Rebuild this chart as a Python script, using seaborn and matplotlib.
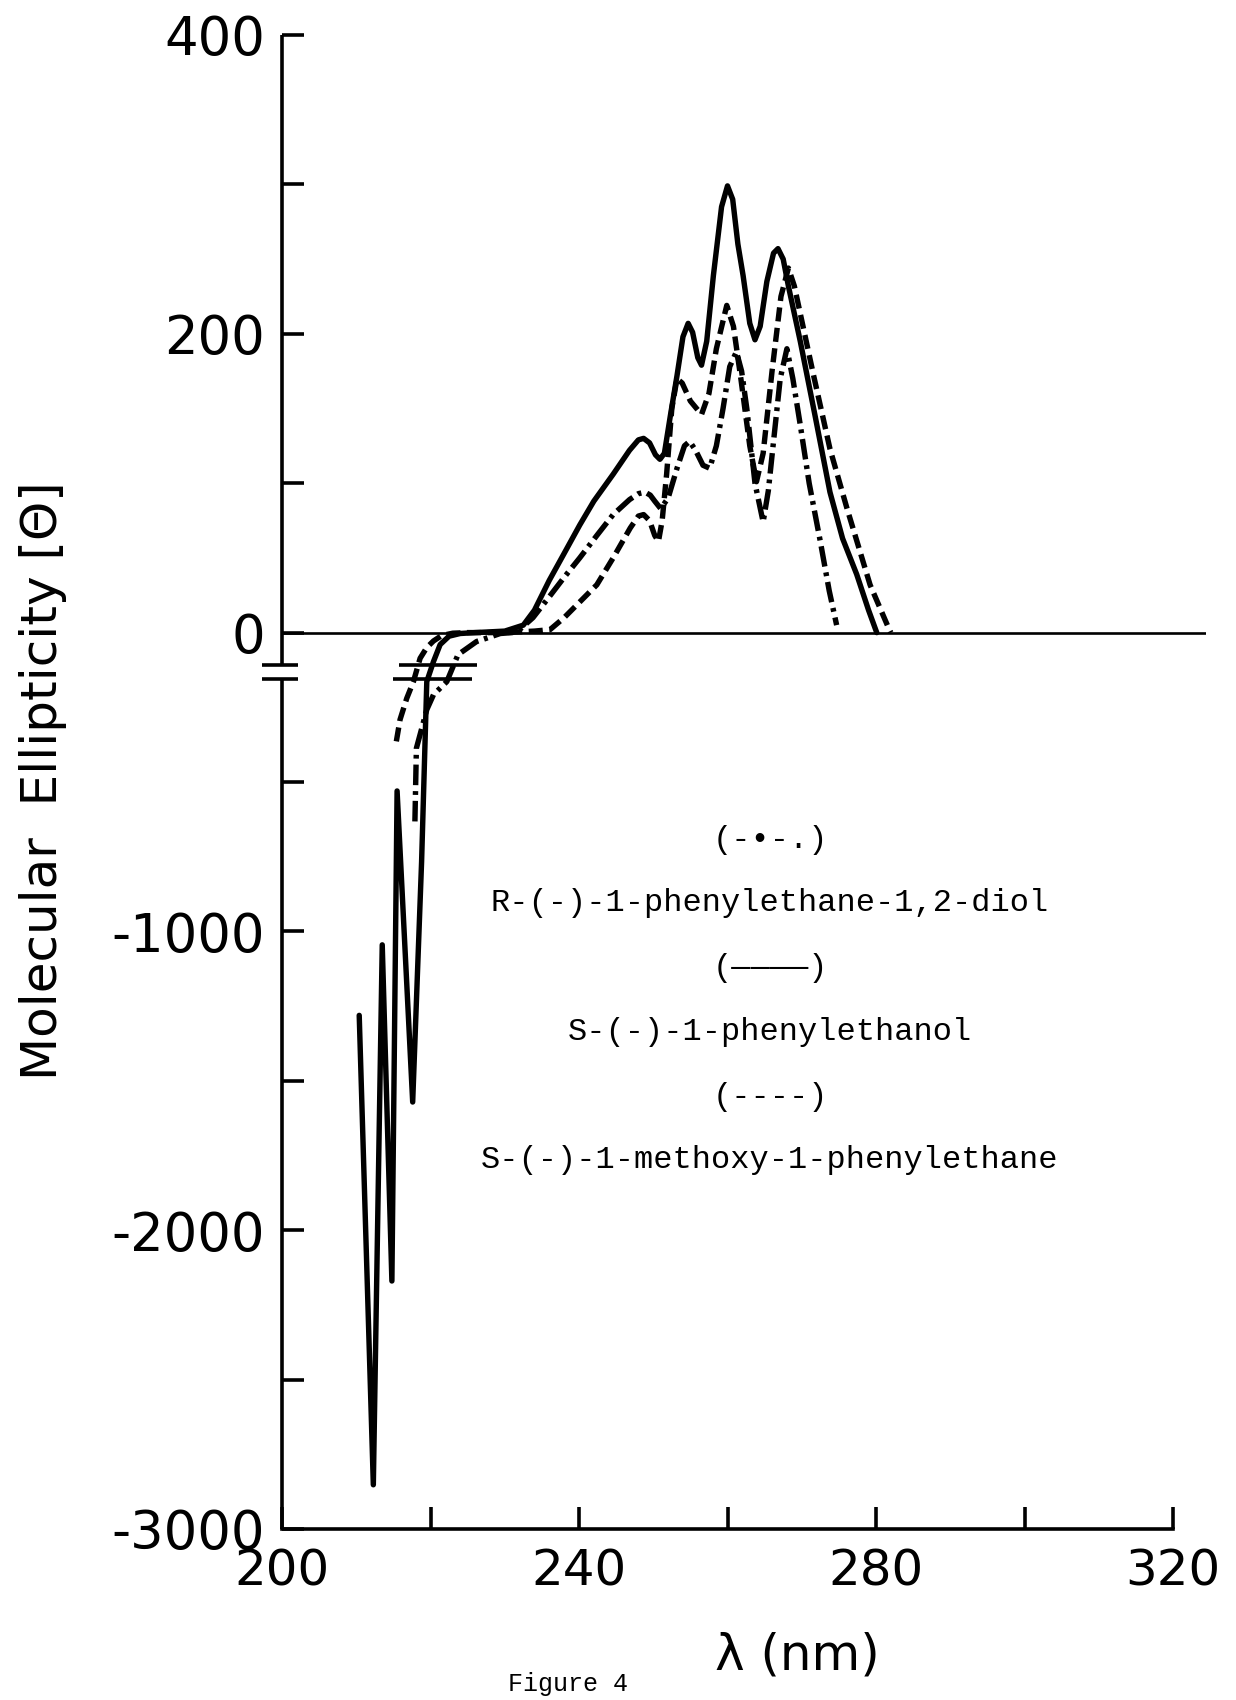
import numpy as np
import pandas as pd
import matplotlib
matplotlib.use("Agg")
import matplotlib.pyplot as plt
import seaborn as sns

# ---------------- data ----------------
# S-(-)-1-phenylethanol  (solid)
wl_solid = [210.4, 212.3, 213.5, 214.8, 215.5, 217.6, 218.8, 219.5, 220.4, 221.3, 222.5, 224.0,
            226.0, 230.0, 232.5, 234.0, 236.0, 238.0, 240.1, 242.0, 244.6, 246.8, 248.0, 248.7,
            249.5, 250.3, 250.9, 251.5, 252.3, 253.2, 254.0, 254.7, 255.3, 256.0, 256.5, 257.2,
            258.1, 259.2, 260.0, 260.7, 261.4, 262.1, 263.0, 263.7, 264.4, 265.3, 266.2, 266.8,
            267.5, 268.2, 269.8, 271.8, 273.8, 275.5, 277.4, 279.0, 280.1]
ell_solid = [-1281, -2852, -1045, -2170, -530, -1571, -767, -164, -97, -40, -12, -3,
             0, 1, 5, 15, 35, 53, 72, 88, 106, 122, 129, 130,
             127, 119, 116, 120, 145, 172, 198, 207, 201, 184, 179, 195,
             239, 285, 299, 290, 260, 239, 207, 196, 205, 235, 254, 257,
             250, 232, 195, 145, 94, 63, 39, 15, 0]

# S-(-)-1-methoxy-1-phenylethane  (dashed)
wl_dash = [215.4, 215.9, 216.8, 217.7, 218.6, 219.5, 220.4, 221.5, 223.0, 225.0, 230.0, 234.0,
           236.1, 238.0, 240.0, 242.4, 244.6, 246.9, 248.0, 248.7, 249.5, 250.2, 250.7, 251.2,
           251.8, 252.5, 253.2, 253.9, 255.0, 256.5, 257.5, 258.5, 259.9, 260.8, 261.8, 263.0,
           263.9, 264.8, 266.0, 267.2, 268.2, 269.0, 271.6, 273.8, 276.1, 279.2, 281.7, 282.0]
ell_dash = [-364, -291, -220, -164, -86, -50, -28, -10, -2, 0, 0, 1,
            2, 10, 20, 32, 50, 70, 78, 79, 75, 65, 61, 75,
            106, 150, 170, 167, 155, 146, 160, 190, 219, 205, 170, 125,
            101, 120, 175, 225, 244, 232, 172, 123, 83, 32, 3, 0]

# R-(-)-1-phenylethane-1,2-diol  (dash-dot)
wl_dd = [217.9, 218.1, 219.5, 220.4, 222.2, 223.7, 226.2, 229.4, 231.0, 232.0, 233.8, 236.0,
         238.0, 240.1, 242.4, 244.6, 246.8, 248.0, 248.9, 249.6, 250.2, 251.0, 252.0, 253.2,
         254.2, 254.9, 255.7, 256.7, 257.6, 258.5, 259.4, 260.3, 261.2, 261.9, 262.6, 263.7,
         264.8, 265.5, 266.2, 267.1, 268.0, 268.8, 269.8, 271.0, 272.5, 273.7, 274.7]
ell_dd = [-632, -387, -258, -208, -164, -74, -30, -3, 0, 2, 10, 24,
          37, 50, 65, 79, 89, 93, 94, 92, 88, 83, 90, 110,
          125, 128, 122, 112, 110, 125, 150, 178, 188, 175, 150, 100,
          74, 95, 128, 170, 190, 170, 139, 100, 61, 28, 5]

y_ticks = [-3000, -2500, -2000, -1500, -1000, -500, 0, 100, 200, 300, 400]
y_labels = ["-3000", "", "-2000", "", "-1000", "", "0", "", "200", "", "400"]
x_ticks = [200, 220, 240, 260, 280, 300, 320]
x_labels = ["200", "", "240", "", "280", "", "320"]

legend_lines = ["(-\u2022-.)", "R-(-)-1-phenylethane-1,2-diol", "(\u2014\u2014\u2014\u2014)",
                "S-(-)-1-phenylethanol", "(----)", "S-(-)-1-methoxy-1-phenylethane"]
break_hi, break_lo = -107, -154

# ---------------- figure ----------------
sns.set_theme(style="white")
plt.rcParams["font.family"] = ["DejaVu Sans"]

W, H = 1236, 1700
fig = plt.figure(figsize=(W / 100, H / 100), dpi=100)
left = 282 / W
bottom = 1 - 1529 / H
top = 1 - 35 / H
xmax = 324.5
width = (xmax - 200) * 7.425 / W
ax = fig.add_axes([left, bottom, width, top - bottom])
ax.set_facecolor("white")

def fwd(y):
    y = np.asarray(y, dtype=float)
    return np.where(y >= 0, y, y / 5.0)

def inv(y):
    y = np.asarray(y, dtype=float)
    return np.where(y >= 0, y, y * 5.0)

ax.set_yscale("function", functions=(fwd, inv))

lw = 3.9
sns.lineplot(x=wl_solid, y=ell_solid, ax=ax, color="black", lw=lw, sort=False)
ax.lines[-1].set_solid_joinstyle("round")
sns.lineplot(x=wl_dash, y=ell_dash, ax=ax, color="black", lw=lw, sort=False)
ax.lines[-1].set_linestyle((0, (2.6, 1.2)))
sns.lineplot(x=wl_dd, y=ell_dd, ax=ax, color="black", lw=lw, sort=False)
ax.lines[-1].set_linestyle((0, (3.8, 1.1, 0.7, 1.1)))

ax.axhline(0, color="black", lw=1.9, zorder=1)

ax.set_xlim(200, xmax)
ax.set_ylim(-3000, 400)

for s in ["top", "right", "left"]:
    ax.spines[s].set_visible(False)
ax.spines["bottom"].set_bounds(200, 320)
ax.spines["bottom"].set_linewidth(2.6)
ax.spines["bottom"].set_color("black")

# left axis line with break
ax.vlines(200, break_hi, 400, color="black", lw=2.6, clip_on=False)
ax.vlines(200, -3000, break_lo, color="black", lw=2.6, clip_on=False)
ax.hlines([break_hi, break_lo], 197.3, 202.2, color="black", lw=2.6, clip_on=False)
# break marks across the curves
ax.hlines(break_hi, 215.7, 226.3, color="black", lw=2.6)
ax.hlines(break_lo, 214.9, 225.6, color="black", lw=2.6)

ax.set_yticks(y_ticks)
ax.set_yticklabels(y_labels)
ax.set_xticks(x_ticks)
ax.set_xticklabels(x_labels)
ax.yaxis.set_minor_locator(matplotlib.ticker.NullLocator())
ax.tick_params(axis="both", direction="in", length=16, width=2.6, color="black",
               labelcolor="black")
ax.tick_params(axis="y", pad=12, left=True, labelsize=38)
ax.tick_params(axis="x", pad=13, bottom=True, labelsize=36)
ax.grid(False)

ax.set_xlabel("")
ax.set_ylabel("")
fig.text(43 / W, 1 - 781 / H, "Molecular  Ellipticity [\u0398]", rotation=90,
         ha="center", va="center", fontsize=36, color="black")
fig.text(797 / W, 1 - 1656 / H, "\u03bb (nm)", ha="center", va="center",
         fontsize=36, color="black")
fig.text(568 / W, 1 - 1684 / H, "Figure 4", ha="center", va="center",
         fontsize=18, family=["Liberation Mono", "DejaVu Sans Mono"], color="black")

leg_y = [840, 903, 968, 1032, 1097, 1160]
for yy, txt in zip(leg_y, legend_lines):
    fig.text(770 / W, 1 - yy / H, txt, ha="center", va="center", fontsize=23,
             family=["Liberation Mono", "DejaVu Sans Mono"], color="black")

fig.savefig("out.png", dpi=100, facecolor="white")
